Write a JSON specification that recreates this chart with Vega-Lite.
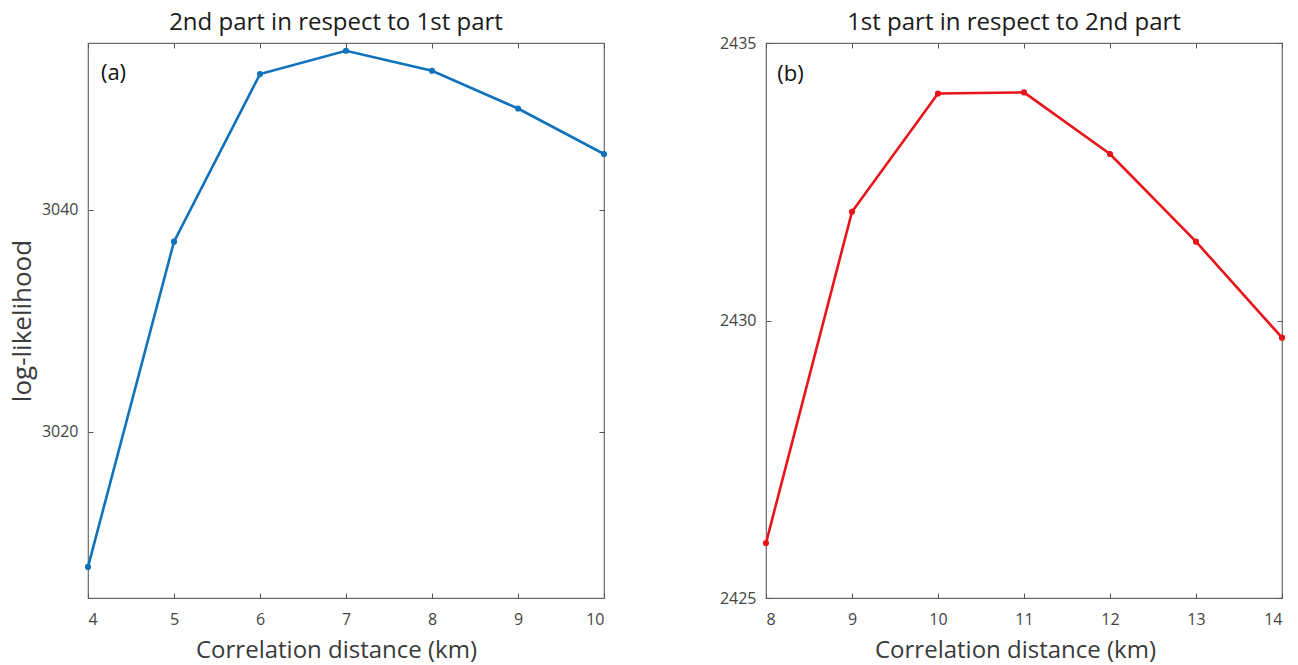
{
  "$schema": "https://vega.github.io/schema/vega-lite/v6.json",
  "background": "white",
  "padding": {"left": 8, "top": 9, "right": 5, "bottom": 5},
  "spacing": 108,
  "config": {
    "font": "Open Sans",
    "view": {"stroke": "#6b6b6b", "strokeWidth": 1.2},
    "axis": {
      "domain": false,
      "grid": false,
      "tickSize": -5,
      "tickColor": "#555555",
      "tickWidth": 1,
      "labelFont": "Open Sans",
      "labelFontSize": 16,
      "labelColor": "#444444",
      "titleFont": "Open Sans",
      "titleFontSize": 24,
      "titleFontWeight": "normal",
      "titleColor": "#3a3a3a",
      "format": "d"
    },
    "title": {"font": "Open Sans", "fontSize": 24, "fontWeight": "normal", "color": "#1a1a1a", "frame": "group", "dx": -10}
  },
  "datasets": {
    "a": [
      {"d": 4, "ll": 3007.8},
      {"d": 5, "ll": 3037.1},
      {"d": 6, "ll": 3052.2},
      {"d": 7, "ll": 3054.3},
      {"d": 8, "ll": 3052.5},
      {"d": 9, "ll": 3049.1},
      {"d": 10, "ll": 3045.0}
    ],
    "b": [
      {"d": 8, "ll": 2425.99},
      {"d": 9, "ll": 2431.96},
      {"d": 10, "ll": 2434.09},
      {"d": 11, "ll": 2434.11},
      {"d": 12, "ll": 2433.0},
      {"d": 13, "ll": 2431.42},
      {"d": 14, "ll": 2429.69}
    ],
    "one": [{"k": 1}]
  },
  "hconcat": [
    {
      "width": 516,
      "height": 555,
      "title": {"text": "2nd part in respect to 1st part", "offset": 8},
      "layer": [
        {
          "data": {"name": "a"},
          "mark": {"type": "line", "color": "#0f72bb", "strokeWidth": 2.6},
          "encoding": {
            "x": {"field": "d", "type": "quantitative", "scale": {"domain": [4, 10], "nice": false, "zero": false},
                  "axis": {"orient": "bottom", "values": [4, 5, 6, 7, 8, 9, 10], "title": "Correlation distance (km)", "labelPadding": 18, "titlePadding": 11, "titleX": 248}},
            "y": {"field": "ll", "type": "quantitative", "scale": {"domain": [3005, 3055], "nice": false, "zero": false},
                  "axis": {"orient": "left", "values": [3020, 3040], "title": "log-likelihood", "titleFontSize": 26, "labelPadding": 15, "titlePadding": 6}}
          }
        },
        {
          "data": {"name": "a"},
          "mark": {"type": "point", "filled": true, "size": 38, "color": "#0f72bb", "opacity": 1},
          "encoding": {
            "x": {"field": "d", "type": "quantitative", "axis": {"orient": "top", "values": [4, 5, 6, 7, 8, 9, 10], "labels": false, "title": null}},
            "y": {"field": "ll", "type": "quantitative", "axis": {"orient": "right", "values": [3020, 3040], "labels": false, "title": null}}
          }
        },
        {
          "data": {"name": "one"},
          "mark": {"type": "text", "text": "(a)", "align": "left", "baseline": "middle", "fontSize": 22, "fontWeight": "normal", "color": "#111111", "font": "Open Sans"},
          "encoding": {
            "x": {"datum": 4.15, "type": "quantitative", "axis": null},
            "y": {"datum": 3052.3, "type": "quantitative", "axis": null}
          }
        }
      ],
      "resolve": {"axis": {"x": "independent", "y": "independent"}}
    },
    {
      "width": 516,
      "height": 555,
      "title": {"text": "1st part in respect to 2nd part", "offset": 0},
      "layer": [
        {
          "data": {"name": "b"},
          "mark": {"type": "line", "color": "#e8141a", "strokeWidth": 2.6},
          "encoding": {
            "x": {"field": "d", "type": "quantitative", "scale": {"domain": [8, 14], "nice": false, "zero": false},
                  "axis": {"orient": "bottom", "values": [8, 9, 10, 11, 12, 13, 14], "title": "Correlation distance (km)", "labelPadding": 18, "titlePadding": 11, "titleX": 249}},
            "y": {"field": "ll", "type": "quantitative", "scale": {"domain": [2425, 2435], "nice": false, "zero": false},
                  "axis": {"orient": "left", "values": [2425, 2430, 2435], "title": null, "labelPadding": 15}}
          }
        },
        {
          "data": {"name": "b"},
          "mark": {"type": "point", "filled": true, "size": 38, "color": "#e8141a", "opacity": 1},
          "encoding": {
            "x": {"field": "d", "type": "quantitative", "axis": {"orient": "top", "values": [8, 9, 10, 11, 12, 13, 14], "labels": false, "title": null}},
            "y": {"field": "ll", "type": "quantitative", "axis": {"orient": "right", "values": [2425, 2430, 2435], "labels": false, "title": null}}
          }
        },
        {
          "data": {"name": "one"},
          "mark": {"type": "text", "text": "(b)", "align": "left", "baseline": "middle", "fontSize": 22, "fontWeight": "normal", "color": "#111111", "font": "Open Sans"},
          "encoding": {
            "x": {"datum": 8.13, "type": "quantitative", "axis": null},
            "y": {"datum": 2434.44, "type": "quantitative", "axis": null}
          }
        }
      ],
      "resolve": {"axis": {"x": "independent", "y": "independent"}}
    }
  ]
}
